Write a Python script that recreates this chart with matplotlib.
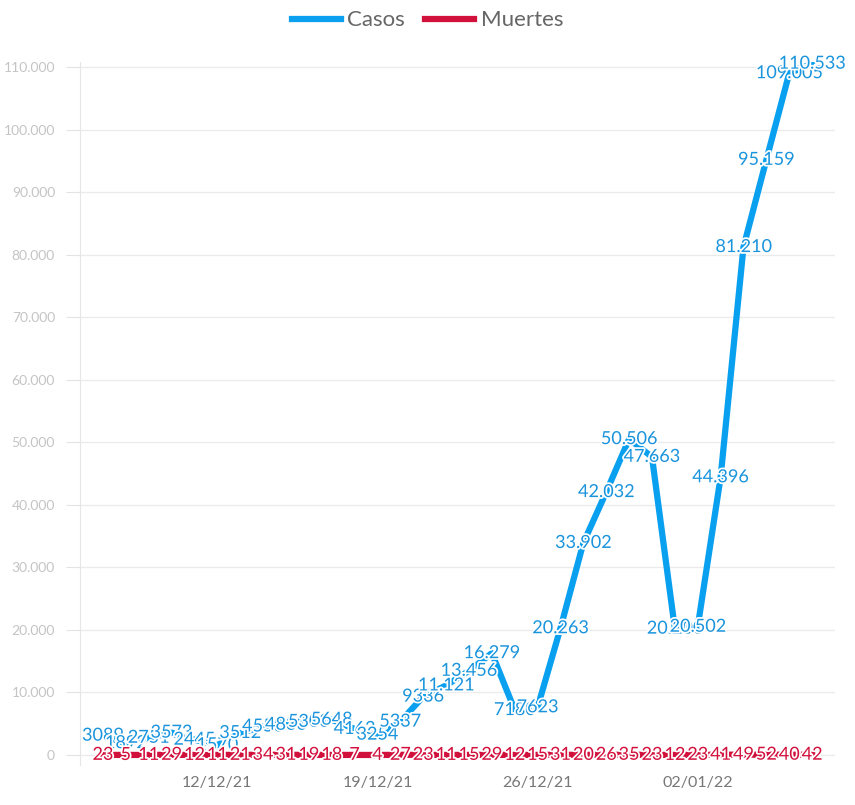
import matplotlib
matplotlib.use("Agg")
import matplotlib.pyplot as plt
import matplotlib.dates as mdates
import matplotlib.patheffects as pe
import matplotlib.ticker as mticker
import pandas as pd

# datos diarios desde el 07/12/21
casos = [3089, 1892, 2751, 3573, 2445, 1570, 3512, 4550, 4830, 5300, 5648,
         4163, 3254, 5337, 9336, 11121, 13456, 16279, 7180, 7623, 20263,
         33902, 42032, 50506, 47663, 20200, 20502, 44396, 81210, 95159,
         109005, 110533]
muertes = [23, 5, 11, 29, 12, 11, 21, 34, 31, 19, 18, 7, 4, 27, 23, 11, 15,
           29, 12, 15, 31, 20, 26, 35, 23, 12, 23, 41, 49, 52, 40, 42]
fechas = pd.date_range("2021-12-07", periods=len(casos), freq="D")
ticks_fechas = pd.to_datetime(["2021-12-12", "2021-12-19", "2021-12-26", "2022-01-02"])

AZUL = "#0aa0f0"
AZUL_TXT = "#1a94dc"
ROJO = "#d2103c"

plt.rcParams["font.family"] = ["Lato", "DejaVu Sans"]


def miles(v):
    v = int(round(v))
    if abs(v) >= 10000:
        return f"{v:,}".replace(",", ".")
    return str(v)


fig = plt.figure(figsize=(8.55, 8.05), dpi=100)
ax = fig.add_axes([0.0936, 0.0497, 0.883, 0.8733])

ax.plot(fechas, casos, color=AZUL, lw=4.5, label="Casos", zorder=3)
ax.plot(fechas, muertes, color=ROJO, lw=4.5, label="Muertes", zorder=3)

halo = [pe.withStroke(linewidth=2.5, foreground="white")]
for f, c in zip(fechas, casos):
    ax.text(f, c, miles(c), color=AZUL_TXT, fontsize=13, ha="center", va="center",
            path_effects=halo, zorder=4)
for f, m in zip(fechas, muertes):
    ax.text(f, m, miles(m), color=ROJO, fontsize=13, ha="center", va="center",
            path_effects=halo, zorder=5)

ax.set_xlim(fechas[0] - pd.Timedelta(days=1), fechas[-1] + pd.Timedelta(days=1))
ax.set_ylim(-1600, 110800)
ax.set_yticks(range(0, 110001, 10000))
ax.yaxis.set_major_formatter(mticker.FuncFormatter(lambda v, p: miles(v)))
ax.set_xticks(ticks_fechas)
ax.xaxis.set_major_formatter(mdates.DateFormatter("%d/%m/%y"))

ax.grid(axis="y", color="#ebebeb", lw=1)
ax.set_axisbelow(True)
for s in ["top", "right", "bottom"]:
    ax.spines[s].set_visible(False)
ax.spines["left"].set_color("#e6e6e6")
ax.tick_params(axis="y", colors="#e3e3e3", labelcolor="#c4c4c4", labelsize=10,
               length=10, pad=8)
ax.tick_params(axis="x", length=0, labelcolor="#777777", labelsize=11.5, pad=8)

leg = fig.legend(loc="upper center", bbox_to_anchor=(0.5, 1.012), ncol=2, frameon=False,
                 fontsize=16, handlelength=2.2, handletextpad=0.3, columnspacing=0.9)
for t in leg.get_texts():
    t.set_color("#666666")
for h in leg.get_lines():
    h.set_linewidth(4.5)

fig.savefig("out.png", dpi=100)
